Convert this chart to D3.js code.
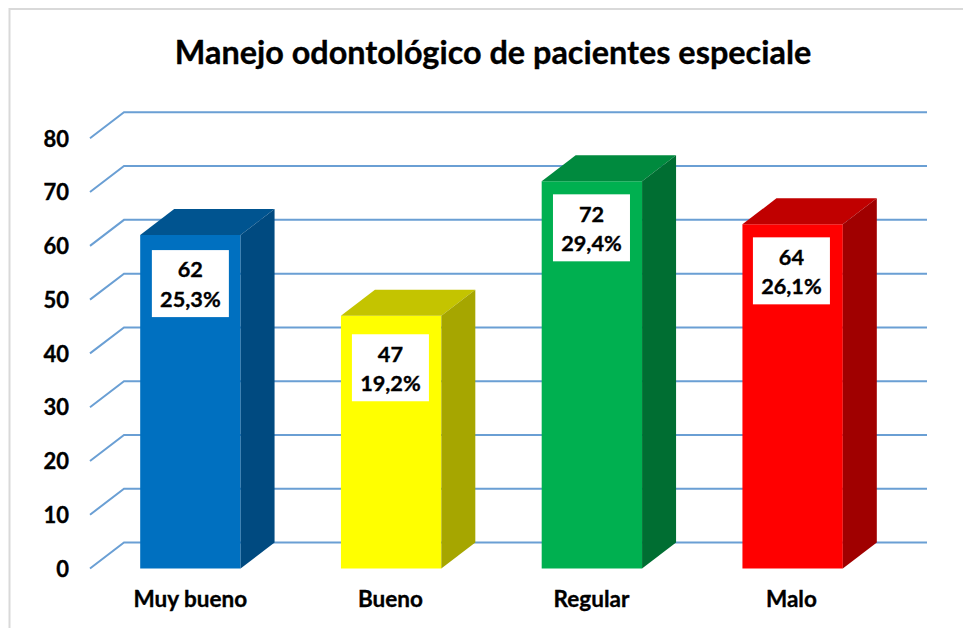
<!DOCTYPE html>
<html><head><meta charset="utf-8">
<script src="https://cdn.jsdelivr.net/npm/d3@7"></script>
<style>html,body{margin:0;padding:0;background:#fff}svg{display:block}text{font-family:Lato,Carlito,sans-serif;font-weight:700;fill:#000;stroke:#000;stroke-width:.35px}</style>
</head><body><div id="c"></div>
<script>
const categories = ["Muy bueno","Bueno","Regular","Malo"];
const counts = [62,47,72,64];
const percents = ["25,3%","19,2%","29,4%","26,1%"];
const frontColors = ["#0070c0","#ffff00","#00b050","#ff0000"];
const topColors = ["#005490","#c4c400","#008a3e","#c00000"];
const sideColors = ["#004a80","#a6a600","#006e32","#a00000"];
const yTicks = [0,10,20,30,40,50,60,70,80];
const titleText = "Manejo odontológico de pacientes especiale";

const W=963,H=628, depthX=34, depthY=26;
const labelDrop=[15,18.5,13,13], labelNudge=[0,-0.7,-0.4,-1.2];
const svg=d3.select("#c").append("svg").attr("width",W).attr("height",H);
const x=d3.scaleBand().domain(categories).range([90,893]).paddingInner(0.5).paddingOuter(0.25);
const y=d3.scaleLinear().domain([0,80]).range([568.5,138.3]);

svg.append("path").attr("d","M9.5,628V9H963").attr("fill","none").attr("stroke","#d9d9d9").attr("stroke-width",2);
svg.append("text").attr("x",493).attr("y",64).attr("text-anchor","middle").attr("font-size",32.4).text(titleText);

const grid=d3.line();
svg.append("g").selectAll("path").data(yTicks).join("path")
  .attr("d",d=>grid([[x.range()[0],y(d)],[x.range()[0]+depthX,y(d)-depthY],[x.range()[1]+depthX,y(d)-depthY]]))
  .attr("fill","none").attr("stroke","#6a9fd4").attr("stroke-width",2);

svg.append("g").selectAll("text").data(yTicks).join("text")
  .attr("x",69).attr("y",d=>y(d)+8.3).attr("text-anchor","end").attr("font-size",22).text(d=>d);

const bars=svg.append("g").selectAll("g").data(categories).join("g");
bars.each(function(c,i){
  const g=d3.select(this), x0=x(c), x1=x0+x.bandwidth(), yt=y(counts[i]), yb=y(0);
  g.append("path").attr("fill",frontColors[i]).attr("d",grid([[x0,yt],[x1,yt],[x1,yb],[x0,yb]])+"Z");
  g.append("path").attr("fill",topColors[i]).attr("d",grid([[x0,yt],[x0+depthX,yt-depthY],[x1+depthX,yt-depthY],[x1,yt]])+"Z");
  g.append("path").attr("fill",sideColors[i]).attr("d",grid([[x1,yt],[x1+depthX,yt-depthY],[x1+depthX,yb-depthY],[x1,yb]])+"Z");
  const cx=(x0+x1)/2+labelNudge[i], by=yt+labelDrop[i];
  g.append("rect").attr("x",cx-38.5).attr("y",by).attr("width",77).attr("height",67).attr("fill","#fff");
  g.append("text").attr("x",cx).attr("y",by+27.3).attr("text-anchor","middle").attr("font-size",21.7).text(counts[i]);
  g.append("text").attr("x",cx).attr("y",by+57).attr("text-anchor","middle").attr("font-size",21.7).text(percents[i]);
  g.append("text").attr("x",cx).attr("y",606.5).attr("text-anchor","middle").attr("font-size",22.5).text(c);
});
</script></body></html>
